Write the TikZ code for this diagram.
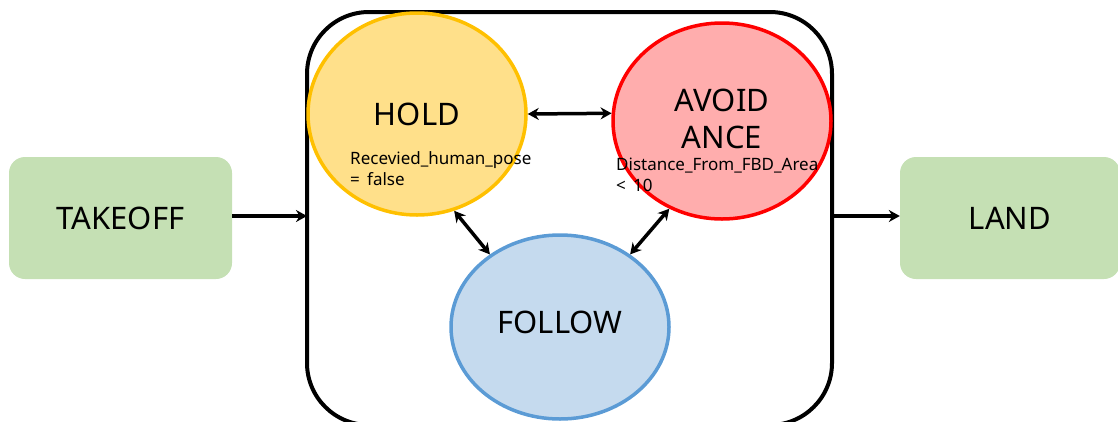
\documentclass[tikz,border=0pt]{standalone}
\usepackage{fontspec}
\setmainfont{Noto Sans}
\usetikzlibrary{arrows.meta,shapes.geometric}
\definecolor{boxgreen}{HTML}{C5E0B4}
\definecolor{holdfill}{HTML}{FFE08A}
\definecolor{holdline}{HTML}{FFC000}
\definecolor{avoidfill}{HTML}{FFADAD}
\definecolor{avoidline}{HTML}{FF0000}
\definecolor{followfill}{HTML}{C5DAEE}
\definecolor{followline}{HTML}{5B9BD5}
\tikzset{
  x=1pt, y=-1pt,
  endbox/.style={fill=boxgreen, rounded corners=16pt, minimum width=223pt, minimum height=122pt,
    font=\fontsize{31}{33}\selectfont, inner sep=0pt},
  state/.style={ellipse, line width=3.5pt, inner sep=0pt},
  big/.style={font=\fontsize{31}{37}\selectfont, align=center},
  cond/.style={font=\fontsize{17}{21}\selectfont, align=left, anchor=north west, inner sep=0pt},
  link/.style={line width=3.5pt, {Stealth[length=11pt,width=12pt]}-{Stealth[length=11pt,width=12pt]}},
  flow/.style={line width=3.5pt, -{Stealth[length=11pt,width=12pt]}}
}
\begin{document}
\begin{tikzpicture}
\useasboundingbox (0,0) rectangle (1118,421);
% supervisor box holding the mission states
\draw[line width=4pt, rounded corners=62pt] (307,12) rectangle (832,425);
\coordinate (boxL) at (307,216);
\coordinate (boxR) at (832,216);
% states
\node[state, fill=holdfill, draw=holdline, minimum width=218pt, minimum height=202pt] (hold) at (417,114) {};
\node[state, fill=avoidfill, draw=avoidline, minimum width=218pt, minimum height=196pt] (avoid) at (722,121) {};
\node[state, fill=followfill, draw=followline, minimum width=218pt, minimum height=184pt] (follow) at (560,327) {};
\node[big] (holdt) at (417,114) {HOLD};
\node[big] (avoidt) at (722,119) {AVOID\\ANCE};
\node[big] (followt) at (560,322) {FOLLOW};
\node[cond] (holdc) at (350,151) {Recevied\_human\_pose\\= \,false};
\node[cond] (avoidc) at (616,158) {Distance\_From\_FBD\_Area\\< \,10};
% takeoff / land
\node[endbox] (takeoff) at (120.5,218) {TAKEOFF};
\node[endbox, minimum width=220pt] (land) at (1010,218) {LAND};
% transitions
\draw[flow] (takeoff.east |- boxL) -- (boxL);
\draw[flow] (boxR) -- (land.west |- boxR);
\draw[link] (hold.east) -- (avoid.176);
\draw[link] (hold.-69) -- (follow.134);
\draw[link] (avoid.-121) -- (follow.46);
\end{tikzpicture}
\end{document}
